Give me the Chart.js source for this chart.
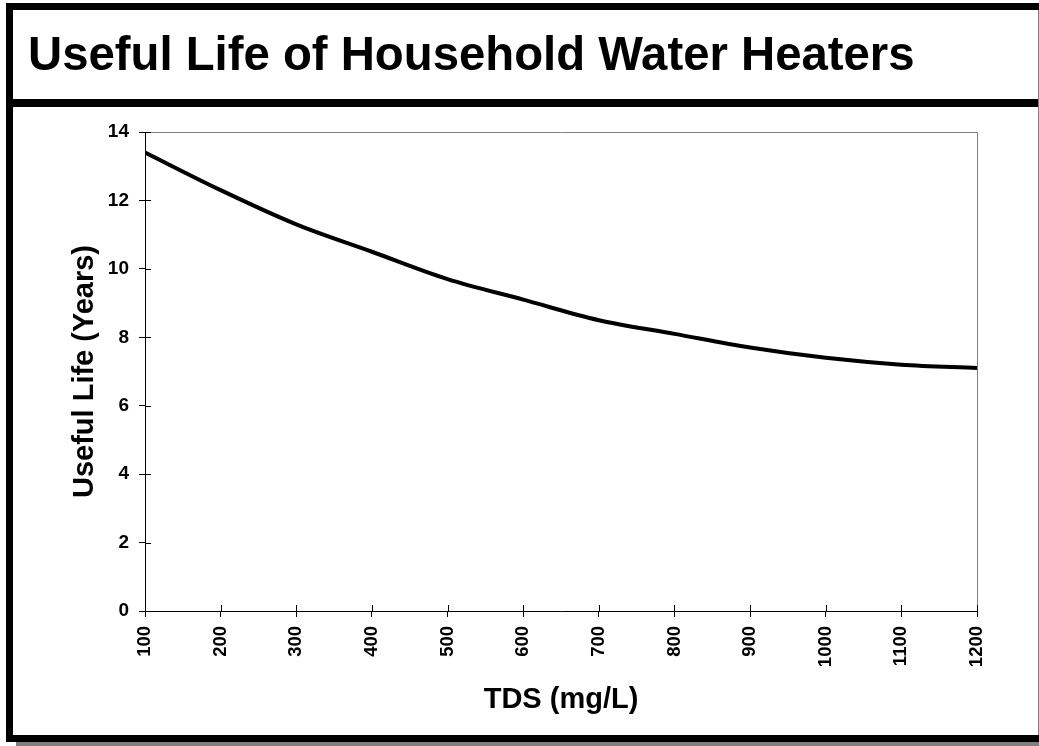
<!DOCTYPE html>
<html>
<head>
<meta charset="utf-8">
<script src="https://cdn.jsdelivr.net/npm/chart.js@4/dist/chart.umd.min.js"></script>
<style>
  html, body { margin: 0; padding: 0; background: #fff; }
  #wrap { position: relative; width: 1039px; height: 746px; overflow: hidden; }
  #c { position: absolute; left: 0; top: 0; }
  .bar { position: absolute; background: #000; }
  #title { position: absolute; left: 28px; top: 30px; font: bold 47.3px "Liberation Sans", Arial, sans-serif; line-height: 47px; color: #000; white-space: nowrap; }
</style>
</head>
<body>
<div id="wrap">
  <canvas id="c" width="1039" height="746"></canvas>
  <div class="bar" style="left:6px;top:3px;width:1033px;height:7px;"></div>
  <div class="bar" style="left:6px;top:3px;width:7px;height:739px;"></div>
  <div class="bar" style="left:6px;top:735px;width:1033px;height:7px;"></div>
  <div class="bar" style="left:6px;top:99px;width:1033px;height:8px;"></div>
  <div class="bar" style="left:16px;top:742px;width:1023px;height:4px;background:#808080;"></div>
  <div class="bar" style="left:1038px;top:10px;width:1px;height:725px;background:#808080;"></div>
  <div id="title">Useful Life of Household Water Heaters</div>
</div>
<script>
const tdsValues = [100, 200, 300, 400, 500, 600, 700, 800, 900, 1000, 1100, 1200];
const usefulLifeYears = [13.4, 12.3, 11.3, 10.5, 9.7, 9.1, 8.5, 8.1, 7.7, 7.4, 7.2, 7.1];
const xTickLabels = ['100', '200', '300', '400', '500', '600', '700', '800', '900', '1000', '1100', '1200'];
const yTickLabels = ['0', '2', '4', '6', '8', '10', '12', '14'];
const xTitle = 'TDS (mg/L)';
const yTitle = 'Useful Life (Years)';
const FONT = '"Liberation Sans", Arial, sans-serif';

const crossTicks = {
  id: 'crossTicks',
  afterDraw(chart) {
    const ctx = chart.ctx;
    const a = chart.chartArea;
    const xs = chart.scales.x, ys = chart.scales.y;
    ctx.save();
    ctx.strokeStyle = '#808080';
    ctx.lineWidth = 1;
    ctx.beginPath();
    ctx.moveTo(a.left, a.top + 0.5);
    ctx.lineTo(a.right + 0.5, a.top + 0.5);
    ctx.lineTo(a.right + 0.5, a.bottom);
    ctx.stroke();
    ctx.strokeStyle = '#000';
    ctx.beginPath();
    xs.ticks.forEach(t => {
      const px = Math.round(xs.getPixelForValue(t.value)) + 0.5;
      ctx.moveTo(px, a.bottom);
      ctx.lineTo(px, a.bottom - 6);
    });
    ys.ticks.forEach(t => {
      const py = Math.round(ys.getPixelForValue(t.value)) + 0.5;
      ctx.moveTo(a.left, py);
      ctx.lineTo(a.left + 6, py);
    });
    ctx.stroke();
    ctx.restore();
  }
};

new Chart(document.getElementById('c'), {
  type: 'line',
  data: {
    datasets: [{
      data: tdsValues.map((x, i) => ({ x: x, y: usefulLifeYears[i] })),
      borderColor: '#000',
      borderWidth: 4,
      pointRadius: 0,
      cubicInterpolationMode: 'monotone',
      fill: false
    }]
  },
  options: {
    responsive: false,
    animation: false,
    layout: { padding: { left: 0, top: 132, right: 62, bottom: 0 } },
    plugins: { legend: { display: false }, tooltip: { enabled: false } },
    scales: {
      x: {
        type: 'linear', min: 100, max: 1200,
        afterFit(s) { s.height = 135; },
        border: { color: '#000', width: 1 },
        grid: { drawOnChartArea: false, drawTicks: true, tickLength: 6, color: '#000' },
        ticks: {
          stepSize: 100, minRotation: 90, maxRotation: 90, autoSkip: false, padding: 9,
          color: '#000', font: { family: FONT, size: 18.5, weight: 'bold' },
          callback: (v, i) => xTickLabels[i]
        },
        title: { display: true, text: xTitle, color: '#000', font: { family: FONT, size: 29, weight: 'bold' }, padding: { top: 0, bottom: 29 } }
      },
      y: {
        type: 'linear', min: 0, max: 14,
        afterFit(s) { s.width = 145; },
        border: { color: '#000', width: 1 },
        grid: { drawOnChartArea: false, drawTicks: true, tickLength: 6, color: '#000' },
        ticks: {
          stepSize: 2, padding: 10, color: '#000', font: { family: FONT, size: 19, weight: 'bold' },
          callback: (v, i) => yTickLabels[i]
        },
        title: { display: true, text: yTitle, color: '#000', font: { family: FONT, size: 29, weight: 'bold' }, padding: { top: 68, bottom: 0 } }
      }
    }
  },
  plugins: [crossTicks]
});
</script>
</body>
</html>
